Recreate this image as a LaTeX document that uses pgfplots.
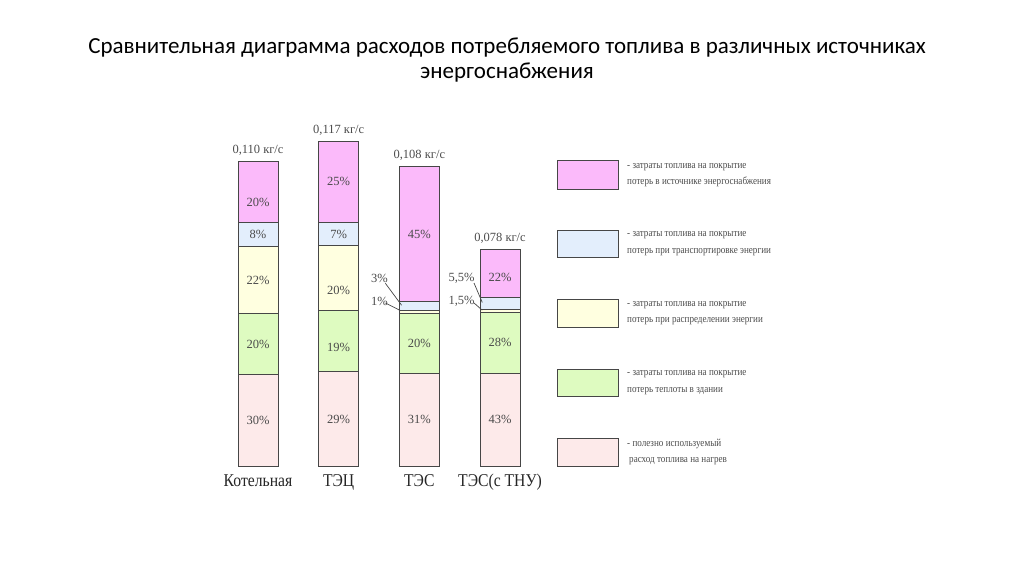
\documentclass[border=0pt]{standalone}
\usepackage{pgfplots}
\pgfplotsset{compat=1.18}
\usepackage{fontspec}
\setmainfont{Liberation Serif}
\newfontfamily\titlefont{Carlito}
\newfontfamily\condfont[FakeStretch=0.87]{Liberation Serif}
\newfontfamily\legfont[FakeStretch=0.85]{Liberation Serif}
\definecolor{cMag}{RGB}{251,186,250}
\definecolor{cBlue}{RGB}{227,238,252}
\definecolor{cYel}{RGB}{255,255,224}
\definecolor{cGrn}{RGB}{222,251,192}
\definecolor{cPink}{RGB}{253,234,234}
\definecolor{cEdge}{RGB}{70,70,70}
\definecolor{cTxt}{RGB}{75,75,75}
\begin{document}
\begin{tikzpicture}[x=1pt,y=1pt]
\useasboundingbox (0,0) rectangle (1024,574);
\node[font=\titlefont\fontsize{23}{26}\selectfont, anchor=base] at (507,520.7) {Сравнительная диаграмма расходов потребляемого топлива в различных источниках};
\node[font=\titlefont\fontsize{23}{26}\selectfont, anchor=base] at (507,495.5) {энергоснабжения};
\begin{axis}[
  at={(233.8pt,108pt)}, anchor=south west,
  scale only axis, width=290.4pt, height=360.4pt,
  xmin=-0.3, xmax=3.3, ymin=0, ymax=0.13,
  ybar stacked, bar width=40pt,
  axis line style={draw=none}, tick style={draw=none},
  ytick=\empty, xtick={0,1,2,3},
  xticklabels={Котельная,ТЭЦ,ТЭС,ТЭС(с ТНУ)},
  xticklabel style={font=\condfont\fontsize{18}{20}\selectfont, text=black!85, anchor=base, yshift=-20.5pt},
  clip=false,
]
\addplot[fill=cPink, draw=cEdge, line width=1pt] coordinates {(0,0.0330) (1,0.03393) (2,0.03348) (3,0.03354)};
\addplot[fill=cGrn, draw=cEdge, line width=1pt] coordinates {(0,0.0220) (1,0.02223) (2,0.0216) (3,0.02184)};
\addplot[fill=cYel, draw=cEdge, line width=1pt] coordinates {(0,0.0242) (1,0.0234) (2,0.00108) (3,0.00117)};
\addplot[fill=cBlue, draw=cEdge, line width=1pt] coordinates {(0,0.0088) (1,0.00819) (2,0.00324) (3,0.00429)};
\addplot[fill=cMag, draw=cEdge, line width=1pt] coordinates {(0,0.0220) (1,0.02925) (2,0.0486) (3,0.01716)};
\end{axis}
% annotations in axis units: x px = 258 + 80.67*x, y px(from bottom) = 108 + 2772*y
\begin{scope}[shift={(258,108)}, x=80.67pt, y=2772pt]
\begin{scope}[every node/.style={font=\fontsize{12.5}{14}\selectfont, text=cTxt}]
\node at (0,0.0165) {30\%};
\node at (0,0.0440) {20\%};
\node at (0,0.0671) {22\%};
\node at (0,0.0836) {8\%};
\node at (0,0.0952) {20\%};
\node at (1,0.01697) {29\%};
\node at (1,0.04275) {19\%};
\node at (1,0.0632) {20\%};
\node at (1,0.08366) {7\%};
\node at (1,0.1025) {25\%};
\node at (2,0.01674) {31\%};
\node at (2,0.04428) {20\%};
\node at (2,0.0837) {45\%};
\node at (3,0.01677) {43\%};
\node at (3,0.04446) {28\%};
\node at (3,0.0682) {22\%};
\node at (1.504,0.0677) {3\%};
\node at (1.504,0.0593) {1\%};
\node at (2.523,0.0677) {5,5\%};
\node at (2.523,0.0593) {1,5\%};
\end{scope}
\draw[cEdge, line width=0.7pt] (1.579,0.0659) -- (1.78,0.0580);
\draw[cEdge, line width=0.7pt] (1.579,0.0588) -- (1.77,0.0560);
\draw[cEdge, line width=0.7pt] (2.678,0.0660) -- (2.78,0.0590);
\draw[cEdge, line width=0.7pt] (2.678,0.0588) -- (2.78,0.0562);
\begin{scope}[every node/.style={font=\fontsize{12.5}{14}\selectfont, text=cTxt, anchor=base, yshift=8pt}]
\node at (0,0.110) {0,110 кг/с};
\node at (1,0.117) {0,117 кг/с};
\node at (2,0.108) {0,108 кг/с};
\node at (3,0.078) {0,078 кг/с};
\end{scope}
\end{scope}
% legend
\begin{scope}[every node/.style={font=\legfont\fontsize{10.7}{16.5}\selectfont, text=cTxt, align=left, anchor=west, inner sep=0pt}]
\draw[fill=cMag, draw=cEdge, line width=1pt] (557.3,385) rectangle (618.3,413);
\node at (627,399) {- затраты топлива на покрытие\\потерь в источнике энергоснабжения};
\draw[fill=cBlue, draw=cEdge, line width=1pt] (557.3,316.3) rectangle (618.3,344);
\node at (627,330.2) {- затраты топлива на покрытие\\потерь при транспортировке энергии};
\draw[fill=cYel, draw=cEdge, line width=1pt] (557.3,246.7) rectangle (618.3,274.7);
\node at (627,260.7) {- затраты топлива на покрытие\\потерь при распределении энергии};
\draw[fill=cGrn, draw=cEdge, line width=1pt] (557.3,177.3) rectangle (618.3,205);
\node at (627,191.2) {- затраты топлива на покрытие\\потерь теплоты в здании};
\draw[fill=cPink, draw=cEdge, line width=1pt] (557.3,108) rectangle (618.3,136);
\node at (627,122) {- полезно используемый\\\hspace*{2pt}расход топлива на нагрев};
\end{scope}
\end{tikzpicture}
\end{document}
